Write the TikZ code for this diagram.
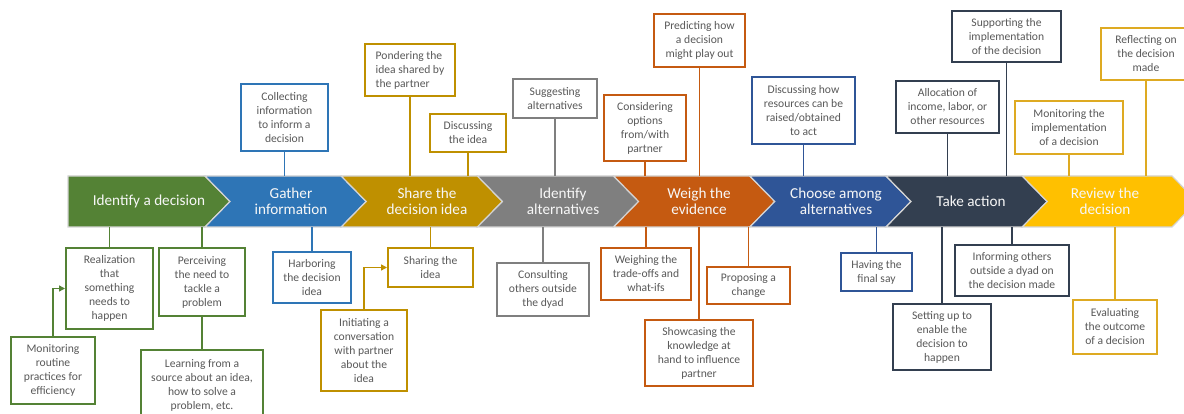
\documentclass[tikz,border=0pt]{standalone}
\usepackage{fontspec}
\setmainfont{Carlito}
\usetikzlibrary{arrows.meta}

\definecolor{cGreen}{RGB}{84,130,53}
\definecolor{cBlue}{RGB}{46,117,182}
\definecolor{cGold}{RGB}{191,144,0}
\definecolor{cGray}{RGB}{127,127,127}
\definecolor{cOrange}{RGB}{197,90,17}
\definecolor{cNavy}{RGB}{47,85,151}
\definecolor{cDark}{RGB}{51,63,80}
\definecolor{cYellow}{RGB}{255,192,0}
\definecolor{cYellowLine}{RGB}{222,170,34}
\definecolor{txtGray}{RGB}{89,89,89}
\definecolor{chevLine}{RGB}{212,212,212}

\begin{document}
\begin{tikzpicture}[x=1pt,y=1pt,yscale=-1,
  box/.style={draw=#1, line width=2pt, fill=white, text=txtGray, align=center, inner sep=0pt,
    font=\fontsize{11.6}{14}\selectfont},
  cline/.style={draw=#1, line width=1.5pt},
  carrow/.style={draw=#1, line width=1.5pt, -{Triangle[length=6pt,width=6pt]}},
  chev/.style={fill=#1, draw=chevLine, line width=1.2pt, line join=miter},
  chevtext/.style={text=white!94!gray, align=center, font=\fontsize{15.2}{16.5}\selectfont}]
\useasboundingbox (0,0) rectangle (1184,414);
\coordinate (bandtop) at (0,176);
\coordinate (bandbot) at (0,227);

%Shape: Chevrons
\draw [chev=cGreen] (68,176) -- (205,176) -- (230,201.5) -- (205,227) -- (68,227) -- cycle ;
\draw [chev=cBlue] (205,176) -- (341.2,176) -- (366.2,201.5) -- (341.2,227) -- (205,227) -- (230,201.5) -- cycle ;
\draw [chev=cGold] (341.2,176) -- (477.4,176) -- (502.4,201.5) -- (477.4,227) -- (341.2,227) -- (366.2,201.5) -- cycle ;
\draw [chev=cGray] (477.4,176) -- (613.6,176) -- (638.6,201.5) -- (613.6,227) -- (477.4,227) -- (502.4,201.5) -- cycle ;
\draw [chev=cOrange] (613.6,176) -- (749.8,176) -- (774.8,201.5) -- (749.8,227) -- (613.6,227) -- (638.6,201.5) -- cycle ;
\draw [chev=cNavy] (749.8,176) -- (886,176) -- (911,201.5) -- (886,227) -- (749.8,227) -- (774.8,201.5) -- cycle ;
\draw [chev=cDark] (886,176) -- (1022.2,176) -- (1047.2,201.5) -- (1022.2,227) -- (886,227) -- (911,201.5) -- cycle ;
\draw [chev=cYellow] (1022.2,176) -- (1172,176) -- (1197,201.5) -- (1172,227) -- (1022.2,227) -- (1047.2,201.5) -- cycle ;

% Text Node
\node (chIdentify) at (149,201.5) [chevtext] {Identify a decision};
\node (chGather) at (291,201.5) [chevtext] {Gather\\information};
\node (chShare) at (427,201.5) [chevtext] {Share the\\decision idea};
\node (chAlt) at (563,201.5) [chevtext] {Identify\\alternatives};
\node (chWeigh) at (699,201.5) [chevtext] {Weigh the\\evidence};
\node (chChoose) at (836,201.5) [chevtext] {Choose among\\alternatives};
\node (chAct) at (971,201.5) [chevtext] {Take action};
\node (chReview) at (1105,201.5) [chevtext] {Review the\\decision};

% Text Node: above the band
\node (collect) at (284.5,117.5) [box=cBlue, minimum width=87pt, minimum height=67pt] {Collecting\\information\\to inform a\\decision};
\node (ponder) at (410,70) [box=cGold, align=left, minimum width=90pt, minimum height=52pt] {Pondering the\\idea shared by\\the partner};
\node (discuss) at (468,133) [box=cGold, minimum width=76pt, minimum height=38pt] {Discussing\\the idea};
\node (suggest) at (555,98.5) [box=cGray, minimum width=84pt, minimum height=39pt] {Suggesting\\alternatives};
\node (consider) at (645,128) [box=cOrange, minimum width=82pt, minimum height=66pt] {Considering\\options\\from/with\\partner};
\node (predict) at (699.5,40.5) [box=cOrange, minimum width=91pt, minimum height=53pt] {Predicting how\\a decision\\might play out};
\node (resource) at (803.5,110.5) [box=cNavy, minimum width=103pt, minimum height=67pt] {Discussing how\\resources can be\\raised/obtained\\to act};
\node (allocate) at (947.5,107) [box=cDark, minimum width=103pt, minimum height=52pt] {Allocation of\\income, labor, or\\other resources};
\node (support) at (1006.5,36.5) [box=cDark, minimum width=109pt, minimum height=51pt] {Supporting the\\implementation\\of the decision};
\node (monimpl) at (1069,127.5) [box=cYellowLine, minimum width=108pt, minimum height=53pt] {Monitoring the\\implementation\\of a decision};
\node (reflect) at (1146,54) [box=cYellowLine, minimum width=90pt, minimum height=52pt] {Reflecting on\\the decision\\made};

% Text Node: below the band
\node (realize) at (109.5,288.5) [box=cGreen, minimum width=87pt, minimum height=81pt] {Realization\\that\\something\\needs to\\happen};
\node (perceive) at (202,282) [box=cGreen, minimum width=86pt, minimum height=68pt] {Perceiving\\the need to\\tackle a\\problem};
\node (monroutine) at (53,370.5) [box=cGreen, minimum width=84pt, minimum height=67pt] {Monitoring\\routine\\practices for\\efficiency};
\node (learn) at (202,385) [box=cGreen, minimum width=122pt, minimum height=70pt] {Learning from a\\source about an idea,\\how to solve a\\problem, etc.};
\node (harbor) at (312,277.5) [box=cBlue, minimum width=78pt, minimum height=51pt] {Harboring\\the decision\\idea};
\node (share) at (430.5,267.5) [box=cGold, minimum width=85pt, minimum height=39pt] {Sharing the\\idea};
\node (initiate) at (364,350.5) [box=cGold, minimum width=86pt, minimum height=81pt] {Initiating a\\conversation\\with partner\\about the\\idea};
\node (consult) at (543,289.5) [box=cGray, minimum width=92pt, minimum height=53pt] {Consulting\\others outside\\the dyad};
\node (weigh) at (646,274) [box=cOrange, minimum width=90pt, minimum height=52pt] {Weighing the\\trade-offs and\\what-ifs};
\node (propose) at (748.5,285.5) [box=cOrange, minimum width=83pt, minimum height=37pt] {Proposing a\\change};
\node (showcase) at (699,353) [box=cOrange, minimum width=108pt, minimum height=66pt] {Showcasing the\\knowledge at\\hand to influence\\partner};
\node (finalsay) at (876.5,272) [box=cNavy, minimum width=71pt, minimum height=38pt] {Having the\\final say};
\node (setup) at (942,337) [box=cDark, minimum width=98pt, minimum height=66pt] {Setting up to\\enable the\\decision to\\happen};
\node (inform) at (1012,270.5) [box=cDark, minimum width=114pt, minimum height=51pt] {Informing others\\outside a dyad on\\the decision made};
\node (evaluate) at (1115,327) [box=cYellowLine, minimum width=84pt, minimum height=54pt] {Evaluating\\the outcome\\of a decision};

%Shape: connectors up
\draw [cline=cBlue] (collect.south) -- (collect.south |- bandtop);
\draw [cline=cGold] (ponder.south) -- (ponder.south |- bandtop);
\draw [cline=cGold] (discuss.south) -- (discuss.south |- bandtop);
\draw [cline=cGray] (suggest.south) -- (suggest.south |- bandtop);
\draw [cline=cOrange] (consider.south) -- (consider.south |- bandtop);
\draw [cline=cOrange] (predict.south) -- (predict.south |- bandtop);
\draw [cline=cNavy] (resource.south) -- (resource.south |- bandtop);
\draw [cline=cDark] (allocate.south) -- (allocate.south |- bandtop);
\draw [cline=cDark] (support.south) -- (support.south |- bandtop);
\draw [cline=cYellowLine] (monimpl.south) -- (monimpl.south |- bandtop);
\draw [cline=cYellowLine] (reflect.south) -- (reflect.south |- bandtop);
%Shape: connectors down
\draw [cline=cGreen] (realize.north) -- (realize.north |- bandbot);
\draw [cline=cGreen] (perceive.north) -- (perceive.north |- bandbot);
\draw [cline=cGreen] (perceive.south) -- (learn.north);
\draw [cline=cBlue] (harbor.north) -- (harbor.north |- bandbot);
\draw [cline=cGold] (share.north) -- (share.north |- bandbot);
\draw [cline=cGray] (consult.north) -- (consult.north |- bandbot);
\draw [cline=cOrange] (weigh.north) -- (weigh.north |- bandbot);
\draw [cline=cOrange] (propose.north) -- (propose.north |- bandbot);
\draw [cline=cOrange] (showcase.north) -- (showcase.north |- bandbot);
\draw [cline=cNavy] (finalsay.north) -- (finalsay.north |- bandbot);
\draw [cline=cDark] (setup.north) -- (setup.north |- bandbot);
\draw [cline=cDark] (inform.north) -- (inform.north |- bandbot);
\draw [cline=cYellowLine] (evaluate.north) -- (evaluate.north |- bandbot);
%Shape: arrows
\draw [carrow=cGreen] (monroutine.north) |- (realize.west);
\draw [carrow=cGold] (initiate.north) |- (share.west);

\end{tikzpicture}
\end{document}
